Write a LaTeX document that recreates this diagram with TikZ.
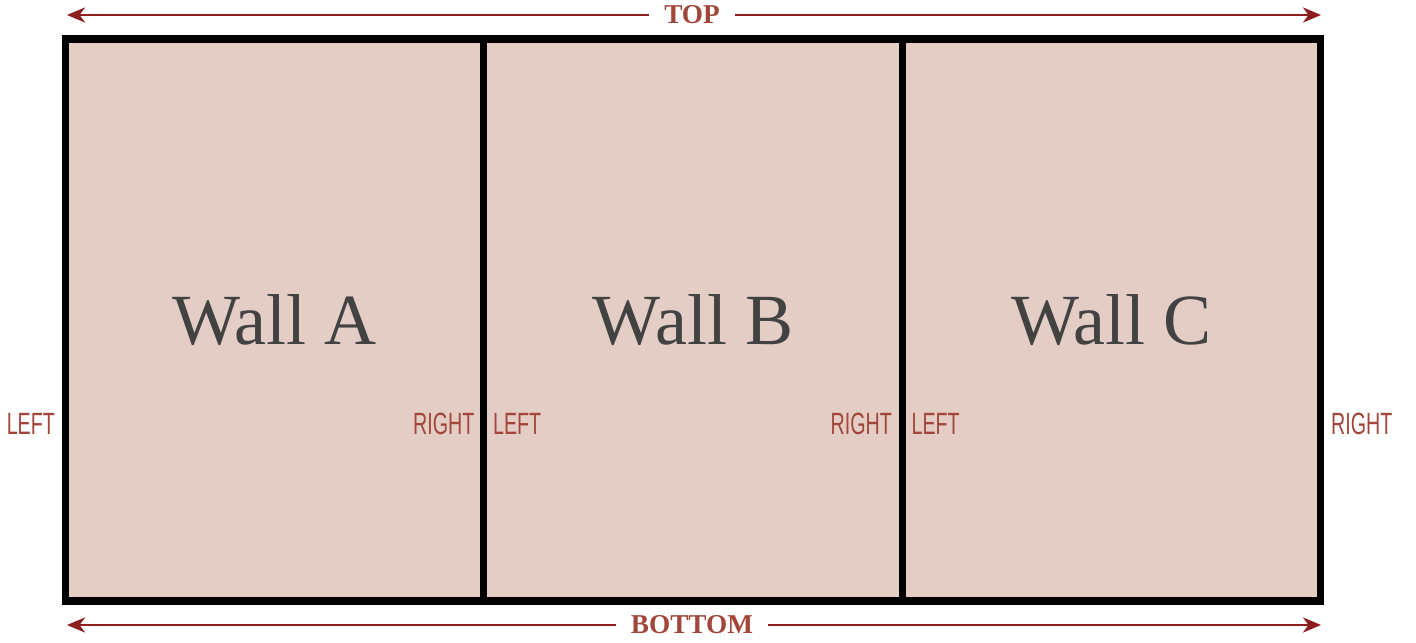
\documentclass[tikz,border=0pt]{standalone}
\usepackage{fontspec}
\setmainfont{Liberation Serif}
\newfontfamily\sidefont[FakeStretch=0.64]{Liberation Sans}
\usetikzlibrary{positioning,arrows.meta}
\definecolor{wallC}{HTML}{E4CDC5}
\definecolor{inkC}{HTML}{424242}
\definecolor{markC}{HTML}{A2463B}
\definecolor{arrowC}{HTML}{8E1D1D}

\begin{document}
\begin{tikzpicture}[
  wall/.style={draw=black, line width=4pt, fill=wallC, outer sep=0pt,
               minimum width=8.37cm, minimum height=11.24cm,
               font=\fontsize{41}{41}\selectfont, text=inkC},
  side/.style={font=\sidefont\fontsize{17.5}{17.5}\selectfont, text=markC, inner sep=0pt},
  dimlabel/.style={font=\bfseries\fontsize{15.5}{15.5}\selectfont, text=markC,
                   inner xsep=0.3cm, inner ysep=0pt},
  dimarrow/.style={-{Stealth[length=0.36cm, width=0.3cm, inset=0.11cm]},
                   line width=1.7pt, arrowC},
]
\useasboundingbox (0,0) rectangle (28.32,12.84);

% ── Walls ──
\node[wall] (wallA) at (5.49,6.44) {Wall A};
\node[wall, right=0 of wallA] (wallB) {Wall B};
\node[wall, right=0 of wallB] (wallC) {Wall C};

% ── Side labels ──
\node[side, anchor=east] (leftA) at ([shift={(-0.2,-2.08)}]wallA.west) {LEFT};
\node[side, anchor=east] (rightA) at ([shift={(-0.18,-2.08)}]wallA.east) {RIGHT};
\node[side, anchor=west] (leftB) at ([shift={(0.18,-2.08)}]wallB.west) {LEFT};
\node[side, anchor=east] (rightB) at ([shift={(-0.2,-2.08)}]wallB.east) {RIGHT};
\node[side, anchor=west] (leftC) at ([shift={(0.18,-2.08)}]wallC.west) {LEFT};
\node[side, anchor=west] (rightC) at ([shift={(0.2,-2.08)}]wallC.east) {RIGHT};

% ── Top and bottom ──
\node[dimlabel] (top) at (13.84,12.54) {TOP};
\node[dimlabel] (bottom) at (13.84,0.34) {BOTTOM};
\coordinate (topL) at (1.34,12.54);
\coordinate (topR) at (26.42,12.54);
\coordinate (botL) at (1.34,0.34);
\coordinate (botR) at (26.42,0.34);
\draw[dimarrow] (top.west) -- (topL);
\draw[dimarrow] (top.east) -- (topR);
\draw[dimarrow] (bottom.west) -- (botL);
\draw[dimarrow] (bottom.east) -- (botR);

\end{tikzpicture}
\end{document}
